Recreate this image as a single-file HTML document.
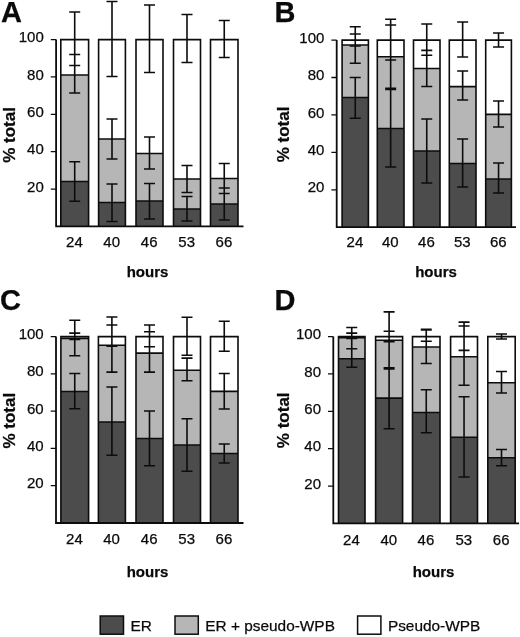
<!DOCTYPE html><html><head><meta charset="utf-8"><title>Figure</title>
<style>html,body{margin:0;padding:0;background:#fff}body{width:520px;height:637px;overflow:hidden}svg{display:block}text{font-family:"Liberation Sans", Arial, Helvetica, sans-serif;fill:#0a0a0a;stroke:#0a0a0a;stroke-width:0.25px}</style></head><body>
<svg width="520" height="637" viewBox="0 0 520 637">
<rect width="520" height="637" fill="#fff"/>
<g id="panelA">
<rect x="60.8" y="39.6" width="27.8" height="186.8" fill="#fff"/>
<rect x="60.8" y="75" width="27.8" height="151.4" fill="#b6b6b6"/>
<rect x="60.8" y="181.5" width="27.8" height="44.9" fill="#4c4c4c"/>
<path d="M60.8 226.4V39.6H88.6V226.4M60.8 75H88.6M60.8 181.5H88.6" fill="none" stroke="#0c0c0c" stroke-width="1.6"/>
<path d="M74.7 12V65.5M69.2 12H80.2M69.2 65.5H80.2M74.7 54.5V93M69.2 54.5H80.2M69.2 93H80.2M74.7 161.75V201.25M69.2 161.75H80.2M69.2 201.25H80.2" fill="none" stroke="#0c0c0c" stroke-width="1.6"/>
<text x="74.40" y="247.3" font-size="15" text-anchor="middle">24</text>
<rect x="98.6" y="39.6" width="26.8" height="186.8" fill="#fff"/>
<rect x="98.6" y="139" width="26.8" height="87.4" fill="#b6b6b6"/>
<rect x="98.6" y="202.5" width="26.8" height="23.9" fill="#4c4c4c"/>
<path d="M98.6 226.4V39.6H125.4V226.4M98.6 139H125.4M98.6 202.5H125.4" fill="none" stroke="#0c0c0c" stroke-width="1.6"/>
<path d="M112.0 1.5V76.5M106.5 1.5H117.5M106.5 76.5H117.5M112.0 119V159M106.5 119H117.5M106.5 159H117.5M112.0 184V221.5M106.5 184H117.5M106.5 221.5H117.5" fill="none" stroke="#0c0c0c" stroke-width="1.6"/>
<text x="111.70" y="247.3" font-size="15" text-anchor="middle">40</text>
<rect x="136" y="39.6" width="27" height="186.8" fill="#fff"/>
<rect x="136" y="153.5" width="27" height="72.9" fill="#b6b6b6"/>
<rect x="136" y="201" width="27" height="25.4" fill="#4c4c4c"/>
<path d="M136 226.4V39.6H163V226.4M136 153.5H163M136 201H163" fill="none" stroke="#0c0c0c" stroke-width="1.6"/>
<path d="M149.5 5V72.5M144.0 5H155.0M144.0 72.5H155.0M149.5 137V169M144.0 137H155.0M144.0 169H155.0M149.5 183.5V219M144.0 183.5H155.0M144.0 219H155.0" fill="none" stroke="#0c0c0c" stroke-width="1.6"/>
<text x="149.20" y="247.3" font-size="15" text-anchor="middle">46</text>
<rect x="173.5" y="39.6" width="27.0" height="186.8" fill="#fff"/>
<rect x="173.5" y="179" width="27.0" height="47.4" fill="#b6b6b6"/>
<rect x="173.5" y="209" width="27.0" height="17.4" fill="#4c4c4c"/>
<path d="M173.5 226.4V39.6H200.5V226.4M173.5 179H200.5M173.5 209H200.5" fill="none" stroke="#0c0c0c" stroke-width="1.6"/>
<path d="M187.0 14.5V62.5M181.5 14.5H192.5M181.5 62.5H192.5M187.0 165.5V192.5M181.5 165.5H192.5M181.5 192.5H192.5M187.0 196.5V221M181.5 196.5H192.5M181.5 221H192.5" fill="none" stroke="#0c0c0c" stroke-width="1.6"/>
<text x="186.70" y="247.3" font-size="15" text-anchor="middle">53</text>
<rect x="210.5" y="39.6" width="27.5" height="186.8" fill="#fff"/>
<rect x="210.5" y="178.5" width="27.5" height="47.9" fill="#b6b6b6"/>
<rect x="210.5" y="204" width="27.5" height="22.4" fill="#4c4c4c"/>
<path d="M210.5 226.4V39.6H238V226.4M210.5 178.5H238M210.5 204H238" fill="none" stroke="#0c0c0c" stroke-width="1.6"/>
<path d="M224.25 20.5V57.5M218.75 20.5H229.75M218.75 57.5H229.75M224.25 163.5V193.5M218.75 163.5H229.75M218.75 193.5H229.75M224.25 188V220M218.75 188H229.75M218.75 220H229.75" fill="none" stroke="#0c0c0c" stroke-width="1.6"/>
<text x="223.95" y="247.3" font-size="15" text-anchor="middle">66</text>
<text x="43.80" y="191.64" font-size="15" text-anchor="end">20</text>
<text x="43.80" y="154.28" font-size="15" text-anchor="end">40</text>
<text x="43.80" y="116.92" font-size="15" text-anchor="end">60</text>
<text x="43.80" y="79.56" font-size="15" text-anchor="end">80</text>
<text x="43.80" y="42.20" font-size="15" text-anchor="end">100</text>
<path d="M56.1 39.6V226.4H243.5" fill="none" stroke="#0c0c0c" stroke-width="1.8"/>
<path d="M50.8 189.04H56.1M50.8 151.68H56.1M50.8 114.32H56.1M50.8 76.96H56.1M50.8 39.60H56.1" fill="none" stroke="#0c0c0c" stroke-width="1.3"/>
<text x="1" y="22" font-size="29" font-weight="bold">A</text>
<text x="147.5" y="277" font-size="15" font-weight="bold" text-anchor="middle">hours</text>
<text transform="translate(15 135) rotate(-90)" font-size="17" font-weight="bold" text-anchor="middle">% total</text>
</g>
<g id="panelB">
<rect x="342.1" y="40.1" width="26.3" height="187.1" fill="#fff"/>
<rect x="342.1" y="45" width="26.3" height="182.2" fill="#b6b6b6"/>
<rect x="342.1" y="97.5" width="26.3" height="129.7" fill="#4c4c4c"/>
<path d="M342.1 227.2V40.1H368.4V227.2M342.1 45H368.4M342.1 97.5H368.4" fill="none" stroke="#0c0c0c" stroke-width="1.6"/>
<path d="M355.25 34V46M349.75 34H360.75M349.75 46H360.75M355.25 26.8V63.3M349.75 26.8H360.75M349.75 63.3H360.75M355.25 77.5V118.2M349.75 77.5H360.75M349.75 118.2H360.75" fill="none" stroke="#0c0c0c" stroke-width="1.6"/>
<text x="354.95" y="247.3" font-size="15" text-anchor="middle">24</text>
<rect x="377.3" y="40.1" width="26.7" height="187.1" fill="#fff"/>
<rect x="377.3" y="56.7" width="26.7" height="170.5" fill="#b6b6b6"/>
<rect x="377.3" y="128.5" width="26.7" height="98.7" fill="#4c4c4c"/>
<path d="M377.3 227.2V40.1H404V227.2M377.3 56.7H404M377.3 128.5H404" fill="none" stroke="#0c0c0c" stroke-width="1.6"/>
<path d="M390.65 19.2V60M385.15 19.2H396.15M385.15 60H396.15M390.65 25V88.4M385.15 25H396.15M385.15 88.4H396.15M390.65 89.4V167M385.15 89.4H396.15M385.15 167H396.15" fill="none" stroke="#0c0c0c" stroke-width="1.6"/>
<text x="390.35" y="247.3" font-size="15" text-anchor="middle">40</text>
<rect x="413.5" y="40.1" width="26.5" height="187.1" fill="#fff"/>
<rect x="413.5" y="68.5" width="26.5" height="158.7" fill="#b6b6b6"/>
<rect x="413.5" y="151" width="26.5" height="76.2" fill="#4c4c4c"/>
<path d="M413.5 227.2V40.1H440V227.2M413.5 68.5H440M413.5 151H440" fill="none" stroke="#0c0c0c" stroke-width="1.6"/>
<path d="M426.75 24V55.2M421.25 24H432.25M421.25 55.2H432.25M426.75 50.4V86.5M421.25 50.4H432.25M421.25 86.5H432.25M426.75 119V183M421.25 119H432.25M421.25 183H432.25" fill="none" stroke="#0c0c0c" stroke-width="1.6"/>
<text x="426.45" y="247.3" font-size="15" text-anchor="middle">46</text>
<rect x="449.3" y="40.1" width="26.7" height="187.1" fill="#fff"/>
<rect x="449.3" y="86.6" width="26.7" height="140.6" fill="#b6b6b6"/>
<rect x="449.3" y="163.5" width="26.7" height="63.7" fill="#4c4c4c"/>
<path d="M449.3 227.2V40.1H476V227.2M449.3 86.6H476M449.3 163.5H476" fill="none" stroke="#0c0c0c" stroke-width="1.6"/>
<path d="M462.65 22V57M457.15 22H468.15M457.15 57H468.15M462.65 71V100M457.15 71H468.15M457.15 100H468.15M462.65 139V187M457.15 139H468.15M457.15 187H468.15" fill="none" stroke="#0c0c0c" stroke-width="1.6"/>
<text x="462.35" y="247.3" font-size="15" text-anchor="middle">53</text>
<rect x="485.7" y="40.1" width="25.7" height="187.1" fill="#fff"/>
<rect x="485.7" y="114.4" width="25.7" height="112.8" fill="#b6b6b6"/>
<rect x="485.7" y="179" width="25.7" height="48.2" fill="#4c4c4c"/>
<path d="M485.7 227.2V40.1H511.4V227.2M485.7 114.4H511.4M485.7 179H511.4" fill="none" stroke="#0c0c0c" stroke-width="1.6"/>
<path d="M498.55 33V47M493.05 33H504.05M493.05 47H504.05M498.55 101V127M493.05 101H504.05M493.05 127H504.05M498.55 163V193M493.05 163H504.05M493.05 193H504.05" fill="none" stroke="#0c0c0c" stroke-width="1.6"/>
<text x="498.25" y="247.3" font-size="15" text-anchor="middle">66</text>
<text x="324.40" y="192.38" font-size="15" text-anchor="end">20</text>
<text x="324.40" y="154.96" font-size="15" text-anchor="end">40</text>
<text x="324.40" y="117.54" font-size="15" text-anchor="end">60</text>
<text x="324.40" y="80.12" font-size="15" text-anchor="end">80</text>
<text x="324.40" y="42.70" font-size="15" text-anchor="end">100</text>
<path d="M336.7 40.1V227.2H516" fill="none" stroke="#0c0c0c" stroke-width="1.8"/>
<path d="M331.4 189.78H336.7M331.4 152.36H336.7M331.4 114.94H336.7M331.4 77.52H336.7M331.4 40.10H336.7" fill="none" stroke="#0c0c0c" stroke-width="1.3"/>
<text x="274.6" y="22" font-size="29" font-weight="bold">B</text>
<text x="436" y="277" font-size="15" font-weight="bold" text-anchor="middle">hours</text>
<text transform="translate(288.5 134.5) rotate(-90)" font-size="17" font-weight="bold" text-anchor="middle">% total</text>
</g>
<g id="panelC">
<rect x="60.9" y="336.6" width="27.7" height="186.4" fill="#fff"/>
<rect x="60.9" y="338.5" width="27.7" height="184.5" fill="#b6b6b6"/>
<rect x="60.9" y="391.5" width="27.7" height="131.5" fill="#4c4c4c"/>
<path d="M60.9 523V336.6H88.6V523M60.9 338.5H88.6M60.9 391.5H88.6" fill="none" stroke="#0c0c0c" stroke-width="1.6"/>
<path d="M74.75 333.1V339.4M69.25 333.1H80.25M69.25 339.4H80.25M74.75 320.2V355.8M69.25 320.2H80.25M69.25 355.8H80.25M74.75 373.5V408.7M69.25 373.5H80.25M69.25 408.7H80.25" fill="none" stroke="#0c0c0c" stroke-width="1.6"/>
<text x="74.45" y="544.1" font-size="15" text-anchor="middle">24</text>
<rect x="98.4" y="336.6" width="27.0" height="186.4" fill="#fff"/>
<rect x="98.4" y="345.3" width="27.0" height="177.7" fill="#b6b6b6"/>
<rect x="98.4" y="422" width="27.0" height="101" fill="#4c4c4c"/>
<path d="M98.4 523V336.6H125.4V523M98.4 345.3H125.4M98.4 422H125.4" fill="none" stroke="#0c0c0c" stroke-width="1.6"/>
<path d="M111.9 325V346.3M106.4 325H117.4M106.4 346.3H117.4M111.9 317V372.1M106.4 317H117.4M106.4 372.1H117.4M111.9 387V455.2M106.4 387H117.4M106.4 455.2H117.4" fill="none" stroke="#0c0c0c" stroke-width="1.6"/>
<text x="111.60" y="544.1" font-size="15" text-anchor="middle">40</text>
<rect x="136" y="336.6" width="27" height="186.4" fill="#fff"/>
<rect x="136" y="353.1" width="27" height="169.9" fill="#b6b6b6"/>
<rect x="136" y="438.5" width="27" height="84.5" fill="#4c4c4c"/>
<path d="M136 523V336.6H163V523M136 353.1H163M136 438.5H163" fill="none" stroke="#0c0c0c" stroke-width="1.6"/>
<path d="M149.5 325V346.7M144.0 325H155.0M144.0 346.7H155.0M149.5 331.7V372.1M144.0 331.7H155.0M144.0 372.1H155.0M149.5 411V465.8M144.0 411H155.0M144.0 465.8H155.0" fill="none" stroke="#0c0c0c" stroke-width="1.6"/>
<text x="149.20" y="544.1" font-size="15" text-anchor="middle">46</text>
<rect x="173.5" y="336.6" width="27.0" height="186.4" fill="#fff"/>
<rect x="173.5" y="370.2" width="27.0" height="152.8" fill="#b6b6b6"/>
<rect x="173.5" y="445" width="27.0" height="78" fill="#4c4c4c"/>
<path d="M173.5 523V336.6H200.5V523M173.5 370.2H200.5M173.5 445H200.5" fill="none" stroke="#0c0c0c" stroke-width="1.6"/>
<path d="M187.0 317.3V355.2M181.5 317.3H192.5M181.5 355.2H192.5M187.0 358.1V380.8M181.5 358.1H192.5M181.5 380.8H192.5M187.0 418.8V471.2M181.5 418.8H192.5M181.5 471.2H192.5" fill="none" stroke="#0c0c0c" stroke-width="1.6"/>
<text x="186.70" y="544.1" font-size="15" text-anchor="middle">53</text>
<rect x="210.5" y="336.6" width="27.5" height="186.4" fill="#fff"/>
<rect x="210.5" y="391.4" width="27.5" height="131.6" fill="#b6b6b6"/>
<rect x="210.5" y="453.5" width="27.5" height="69.5" fill="#4c4c4c"/>
<path d="M210.5 523V336.6H238V523M210.5 391.4H238M210.5 453.5H238" fill="none" stroke="#0c0c0c" stroke-width="1.6"/>
<path d="M224.25 321.2V351.3M218.75 321.2H229.75M218.75 351.3H229.75M224.25 373.5V409M218.75 373.5H229.75M218.75 409H229.75M224.25 444V463M218.75 444H229.75M218.75 463H229.75" fill="none" stroke="#0c0c0c" stroke-width="1.6"/>
<text x="223.95" y="544.1" font-size="15" text-anchor="middle">66</text>
<text x="43.70" y="488.32" font-size="15" text-anchor="end">20</text>
<text x="43.70" y="451.04" font-size="15" text-anchor="end">40</text>
<text x="43.70" y="413.76" font-size="15" text-anchor="end">60</text>
<text x="43.70" y="376.48" font-size="15" text-anchor="end">80</text>
<text x="43.70" y="339.20" font-size="15" text-anchor="end">100</text>
<path d="M56 336.6V523H243.5" fill="none" stroke="#0c0c0c" stroke-width="1.8"/>
<path d="M50.7 485.72H56M50.7 448.44H56M50.7 411.16H56M50.7 373.88H56M50.7 336.60H56" fill="none" stroke="#0c0c0c" stroke-width="1.3"/>
<text x="0" y="310" font-size="29" font-weight="bold">C</text>
<text x="147.5" y="576.7" font-size="15" font-weight="bold" text-anchor="middle">hours</text>
<text transform="translate(15 420.7) rotate(-90)" font-size="17" font-weight="bold" text-anchor="middle">% total</text>
</g>
<g id="panelD">
<rect x="338.5" y="336.6" width="26.5" height="186.8" fill="#fff"/>
<rect x="338.5" y="337.6" width="26.5" height="185.8" fill="#b6b6b6"/>
<rect x="338.5" y="358.8" width="26.5" height="164.6" fill="#4c4c4c"/>
<path d="M338.5 523.4V336.6H365V523.4M338.5 337.6H365M338.5 358.8H365" fill="none" stroke="#0c0c0c" stroke-width="1.6"/>
<path d="M351.75 333.1V338.5M346.25 333.1H357.25M346.25 338.5H357.25M351.75 327.5V348.7M346.25 327.5H357.25M346.25 348.7H357.25M351.75 348.7V367.3M346.25 348.7H357.25M346.25 367.3H357.25" fill="none" stroke="#0c0c0c" stroke-width="1.6"/>
<text x="351.45" y="544.5" font-size="15" text-anchor="middle">24</text>
<rect x="375.6" y="336.6" width="27.0" height="186.8" fill="#fff"/>
<rect x="375.6" y="340.3" width="27.0" height="183.1" fill="#b6b6b6"/>
<rect x="375.6" y="398.1" width="27.0" height="125.3" fill="#4c4c4c"/>
<path d="M375.6 523.4V336.6H402.6V523.4M375.6 340.3H402.6M375.6 398.1H402.6" fill="none" stroke="#0c0c0c" stroke-width="1.6"/>
<path d="M389.1 331.2V341.8M383.6 331.2H394.6M383.6 341.8H394.6M389.1 311.9V367.9M383.6 311.9H394.6M383.6 367.9H394.6M389.1 368.9V428.7M383.6 368.9H394.6M383.6 428.7H394.6" fill="none" stroke="#0c0c0c" stroke-width="1.6"/>
<text x="388.80" y="544.5" font-size="15" text-anchor="middle">40</text>
<rect x="412.5" y="336.6" width="27.5" height="186.8" fill="#fff"/>
<rect x="412.5" y="347" width="27.5" height="176.4" fill="#b6b6b6"/>
<rect x="412.5" y="412.5" width="27.5" height="110.9" fill="#4c4c4c"/>
<path d="M412.5 523.4V336.6H440V523.4M412.5 347H440M412.5 412.5H440" fill="none" stroke="#0c0c0c" stroke-width="1.6"/>
<path d="M426.25 330V341.3M420.75 330H431.75M420.75 341.3H431.75M426.25 329.4V363.5M420.75 329.4H431.75M420.75 363.5H431.75M426.25 389.8V432.7M420.75 389.8H431.75M420.75 432.7H431.75" fill="none" stroke="#0c0c0c" stroke-width="1.6"/>
<text x="425.95" y="544.5" font-size="15" text-anchor="middle">46</text>
<rect x="450.6" y="336.6" width="26.9" height="186.8" fill="#fff"/>
<rect x="450.6" y="356.8" width="26.9" height="166.6" fill="#b6b6b6"/>
<rect x="450.6" y="437.2" width="26.9" height="86.2" fill="#4c4c4c"/>
<path d="M450.6 523.4V336.6H477.5V523.4M450.6 356.8H477.5M450.6 437.2H477.5" fill="none" stroke="#0c0c0c" stroke-width="1.6"/>
<path d="M464.05 322.1V350.4M458.55 322.1H469.55M458.55 350.4H469.55M464.05 326V385.2M458.55 326H469.55M458.55 385.2H469.55M464.05 396.7V477M458.55 396.7H469.55M458.55 477H469.55" fill="none" stroke="#0c0c0c" stroke-width="1.6"/>
<text x="463.75" y="544.5" font-size="15" text-anchor="middle">53</text>
<rect x="487.8" y="336.6" width="27.4" height="186.8" fill="#fff"/>
<rect x="487.8" y="382.8" width="27.4" height="140.6" fill="#b6b6b6"/>
<rect x="487.8" y="457.8" width="27.4" height="65.6" fill="#4c4c4c"/>
<path d="M487.8 523.4V336.6H515.2V523.4M487.8 382.8H515.2M487.8 457.8H515.2" fill="none" stroke="#0c0c0c" stroke-width="1.6"/>
<path d="M501.5 334V339M496.0 334H507.0M496.0 339H507.0M501.5 371.5V393M496.0 371.5H507.0M496.0 393H507.0M501.5 449.5V465.8M496.0 449.5H507.0M496.0 465.8H507.0" fill="none" stroke="#0c0c0c" stroke-width="1.6"/>
<text x="501.20" y="544.5" font-size="15" text-anchor="middle">66</text>
<text x="321.00" y="488.64" font-size="15" text-anchor="end">20</text>
<text x="321.00" y="451.28" font-size="15" text-anchor="end">40</text>
<text x="321.00" y="413.92" font-size="15" text-anchor="end">60</text>
<text x="321.00" y="376.56" font-size="15" text-anchor="end">80</text>
<text x="321.00" y="339.20" font-size="15" text-anchor="end">100</text>
<path d="M333.3 336.6V523.4H519" fill="none" stroke="#0c0c0c" stroke-width="1.8"/>
<path d="M328.0 486.04H333.3M328.0 448.68H333.3M328.0 411.32H333.3M328.0 373.96H333.3M328.0 336.60H333.3" fill="none" stroke="#0c0c0c" stroke-width="1.3"/>
<text x="274.5" y="310" font-size="29" font-weight="bold">D</text>
<text x="433.5" y="577" font-size="15" font-weight="bold" text-anchor="middle">hours</text>
<text transform="translate(288.5 420.3) rotate(-90)" font-size="17" font-weight="bold" text-anchor="middle">% total</text>
</g>
<g id="legend">
<rect x="100.2" y="616" width="23.3" height="18.2" fill="#4c4c4c" stroke="#0c0c0c" stroke-width="1.5"/>
<text x="130.5" y="631.3" font-size="15.4">ER</text>
<rect x="175" y="616" width="23.3" height="18.2" fill="#b6b6b6" stroke="#0c0c0c" stroke-width="1.5"/>
<text x="205.3" y="631.3" font-size="15.4">ER + pseudo-WPB</text>
<rect x="357.6" y="616" width="23.3" height="18.2" fill="#fff" stroke="#0c0c0c" stroke-width="1.5"/>
<text x="387.9" y="631.3" font-size="15.4">Pseudo-WPB</text>
</g>
</svg></body></html>
